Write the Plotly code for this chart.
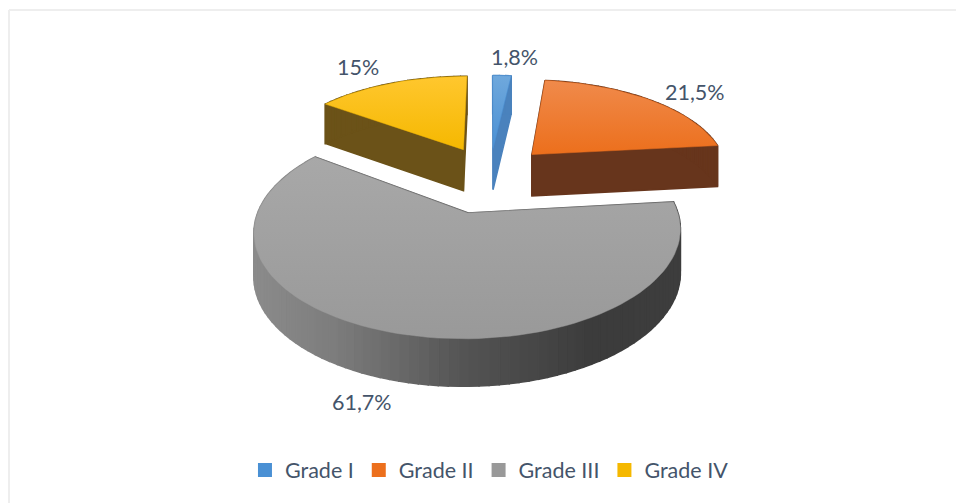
import math
import plotly.graph_objects as go

# ---- data ----
categories = ["Grade I", "Grade II", "Grade III", "Grade IV"]
values = [1.8, 21.5, 61.7, 15.0]
value_labels = ["1,8%", "21,5%", "61,7%", "15%"]

# ---- style ----
pulls = [0.29, 0.31, 0.41, 0.31]
top_colors = [
    ["#6fa8dc", "#4a90d4"],
    ["#f08a4b", "#ec6f1c"],
    ["#a8a8a8", "#999999"],
    ["#ffc72e", "#f5b800"],
]
wall_colors = ["#4a82bd", "#67351c", "#5a5a5a", "#6b5218"]
draw_order = [3, 1, 0, 2]
label_xy = [(514, 57), (695, 92), (362, 402), (358, 67)]
FONT = "Lato"
TEXT = "#44546A"

CX, CY, RX, RY, K, DEPTH = 490, 174, 197, 92, 0.158, 42


def project(X, Y, down=False):
    s = 1 / (1 + K * Y)
    px = CX + RX * X * s
    py = CY - RY * Y * s
    if down:
        py += DEPTH * math.sqrt(s)
    return px, py


def rim_gray(px):
    t = min(max((px - 252) / 430, 0), 1)
    stops = [(0, 140), (0.2, 125), (0.5, 85), (0.8, 60), (1, 62)]
    for (a, va), (b, vb) in zip(stops, stops[1:]):
        if t <= b:
            v = int(va + (vb - va) * (t - a) / (b - a))
            return f"rgb({v},{v},{v})"
    return "rgb(62,62,62)"


total = sum(values)
angles = []
acc = 0.0
for v in values:
    angles.append((acc / total * 2 * math.pi, (acc + v) / total * 2 * math.pi))
    acc += v

fig = go.Figure()


def quad(a, b, color):
    ax, ay = project(*a)
    bx, by = project(*b)
    cx, cy = project(*b, down=True)
    dx, dy = project(*a, down=True)
    fig.add_trace(go.Scatter(
        x=[ax, bx, cx, dx, ax], y=[ay, by, cy, dy, ay], mode="lines",
        fill="toself", fillcolor=color, line=dict(color=color, width=1.5),
        showlegend=False, hoverinfo="skip"))


for i in draw_order:
    a0, a1 = angles[i]
    mid = (a0 + a1) / 2
    ox, oy = pulls[i] * math.sin(mid), pulls[i] * math.cos(mid)
    n = max(3, int((a1 - a0) / 0.04))
    rim = [(ox + math.sin(a0 + (a1 - a0) * j / n), oy + math.cos(a0 + (a1 - a0) * j / n))
           for j in range(n + 1)]
    apex = (ox, oy)
    quad(apex, rim[0], wall_colors[i])
    quad(rim[-1], apex, wall_colors[i])
    for p, q in zip(rim, rim[1:]):
        c = rim_gray(project(*p)[0]) if i == 2 else wall_colors[i]
        quad(p, q, c)
    poly = [project(*apex)] + [project(*p) for p in rim] + [project(*apex)]
    fig.add_trace(go.Scatter(
        x=[p[0] for p in poly], y=[p[1] for p in poly], mode="lines", fill="toself",
        fillgradient=dict(type="vertical",
                          colorscale=[[0, top_colors[i][1]], [1, top_colors[i][0]]]),
        line=dict(color=top_colors[i][1], width=0.5),
        showlegend=False, hoverinfo="skip"))

for name, cols in zip(categories, top_colors):
    fig.add_trace(go.Scatter(
        x=[None], y=[None], mode="markers", name=name,
        marker=dict(symbol="square", size=14, color=cols[1])))

for label, (x, y) in zip(value_labels, label_xy):
    fig.add_annotation(x=x, y=y, text=label, showarrow=False,
                       font=dict(family=FONT, size=21.5, color=TEXT))

fig.add_shape(type="line", x0=9, x1=956, y0=10, y1=10, line=dict(color="#eeeeee", width=2))
fig.add_shape(type="line", x0=9, x1=9, y0=10, y1=503, line=dict(color="#eeeeee", width=2))

fig.update_layout(
    width=956, height=503, margin=dict(l=0, r=0, t=0, b=0),
    paper_bgcolor="white", plot_bgcolor="white",
    xaxis=dict(range=[0, 956], visible=False, fixedrange=True),
    yaxis=dict(range=[503, 0], visible=False, fixedrange=True),
    legend=dict(orientation="h", x=0.512, xanchor="center", y=0.0656, yanchor="middle",
                font=dict(family=FONT, size=21.5, color=TEXT), itemwidth=30,
                bgcolor="rgba(0,0,0,0)"),
    showlegend=True,
)

fig.write_html("out.html", config={"displayModeBar": False},
               post_script="document.body.style.margin='0';")
